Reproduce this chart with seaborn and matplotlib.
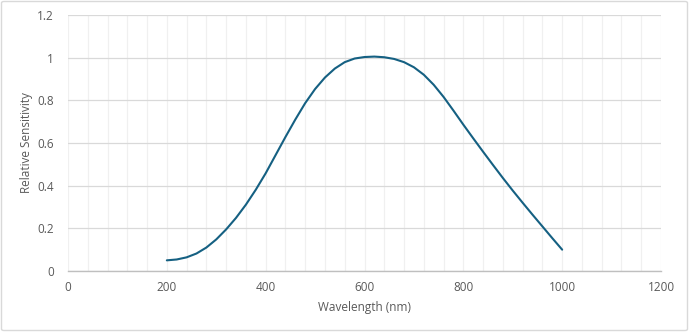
import matplotlib
matplotlib.use("Agg")
import matplotlib.pyplot as plt
import seaborn as sns
import pandas as pd
from matplotlib.patches import FancyBboxPatch
from matplotlib.ticker import MultipleLocator, FuncFormatter

wavelength = [200, 220, 240, 260, 280, 300, 320, 340, 360, 380, 400, 420, 440, 460, 480,
              500, 520, 540, 560, 580, 600, 620, 640, 660, 680, 700, 720, 740, 760, 780,
              800, 820, 840, 860, 880, 900, 920, 940, 960, 980, 1000]
sensitivity = [0.050, 0.054, 0.064, 0.082, 0.110, 0.148, 0.195, 0.249, 0.311, 0.381, 0.458,
               0.543, 0.628, 0.710, 0.787, 0.853, 0.907, 0.949, 0.979, 0.996, 1.003, 1.005,
               1.002, 0.994, 0.979, 0.955, 0.920, 0.873, 0.816, 0.752, 0.686, 0.622, 0.559,
               0.497, 0.436, 0.377, 0.320, 0.264, 0.209, 0.154, 0.100]
x_ticks = [0, 200, 400, 600, 800, 1000, 1200]
y_ticks = [0, 0.2, 0.4, 0.6, 0.8, 1.0, 1.2]

df = pd.DataFrame({"Wavelength (nm)": wavelength, "Relative Sensitivity": sensitivity})

sns.set_theme(style="white")
plt.rcParams['font.family'] = ['Open Sans', 'DejaVu Sans']

fig = plt.figure(figsize=(6.89, 3.32), dpi=100)
ax = fig.add_axes([68/689, 61/332, (661-68)/689, (271-15)/332])

sns.lineplot(data=df, x="Wavelength (nm)", y="Relative Sensitivity", ax=ax,
             color="#156082", linewidth=1.5, zorder=3)

ax.set_xlim(0, 1200)
ax.set_ylim(0, 1.2)
ax.set_xticks(x_ticks)
ax.set_yticks(y_ticks)
ax.xaxis.set_minor_locator(MultipleLocator(40))
ax.yaxis.set_major_formatter(FuncFormatter(lambda v, p: f"{v:g}"))

ax.grid(which="minor", axis="x", color="#F0F0F0", linewidth=0.9, zorder=0)
ax.grid(which="major", axis="x", color="#F0F0F0", linewidth=0.9, zorder=0)
ax.grid(which="major", axis="y", color="#D9D9D9", linewidth=0.9, zorder=1)
ax.set_axisbelow(True)

for s in ["top", "right", "left"]:
    ax.spines[s].set_visible(False)
ax.spines["bottom"].set_color("#BFBFBF")
ax.spines["bottom"].set_linewidth(1.0)

ax.tick_params(axis="both", which="both", length=0, labelsize=8.5, labelcolor="#595959")
ax.tick_params(axis="y", pad=10)
ax.tick_params(axis="x", pad=7)

ax.set_xlabel("Wavelength (nm)", fontsize=8.5, color="#595959", labelpad=5)
ax.set_ylabel("Relative Sensitivity", fontsize=8.5, color="#595959", labelpad=3)

border = FancyBboxPatch((1.5/689, 1.5/332), 1 - 3/689, 1 - 3/332,
                        boxstyle="round,pad=0,rounding_size=0.004",
                        transform=fig.transFigure, facecolor="none",
                        edgecolor="#D9D9D9", linewidth=1.0)
fig.patches.append(border)

fig.savefig("out.png", dpi=100)
